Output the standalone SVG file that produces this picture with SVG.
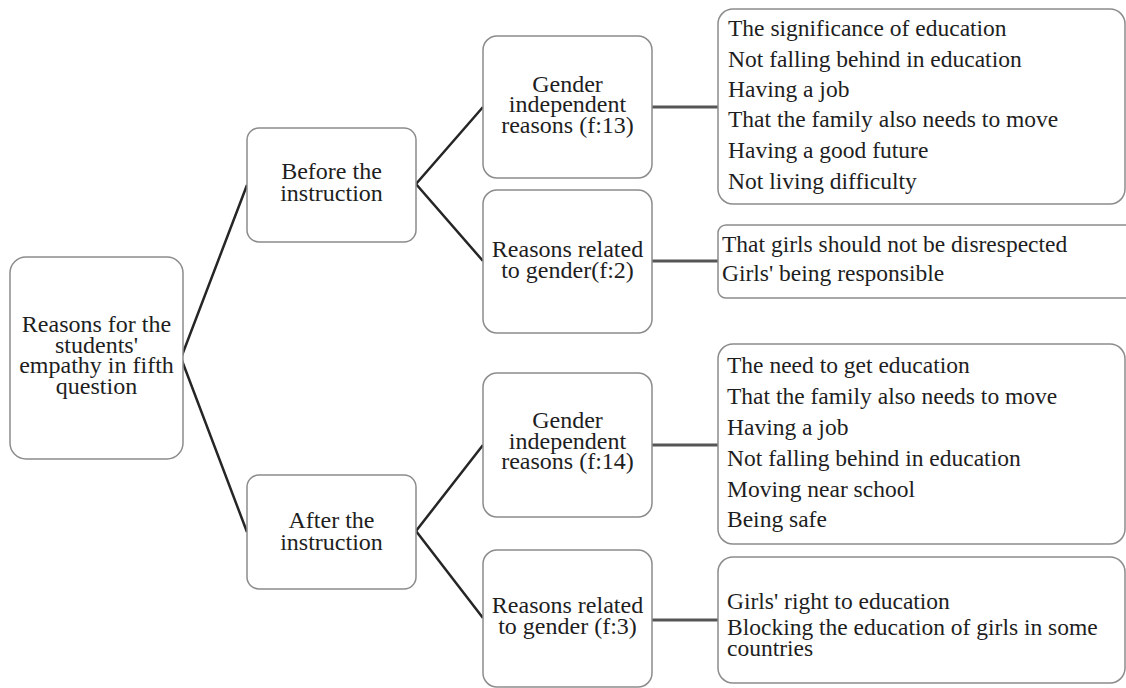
<svg xmlns="http://www.w3.org/2000/svg" width="1126" height="688" viewBox="0 0 1126 688">
  <style>
    .box { fill: #ffffff; stroke: #8c8c8c; stroke-width: 1.5; }
    .t { font-family: "Liberation Serif", "Times New Roman", serif; font-size: 24px; fill: #1e1e1e; text-anchor: middle; }
    .lt { font-family: "Liberation Serif", "Times New Roman", serif; font-size: 23.5px; fill: #1e1e1e; }
    .diag { stroke: #262626; stroke-width: 2.5; fill: none; stroke-linejoin: miter; }
    .flat { stroke: #555555; stroke-width: 3; fill: none; }
  </style>
  <rect width="1126" height="688" fill="#ffffff"/>

  <!-- connectors -->
  <g id="connectors">
    <polyline class="diag" points="247,185 181,358 247,532"/>
    <polyline class="diag" points="483,107 416,184 483,261"/>
    <polyline class="diag" points="483,445 416,531 483,618"/>
    <line class="flat" x1="652" y1="107" x2="718" y2="107"/>
    <line class="flat" x1="652" y1="261" x2="718" y2="261"/>
    <line class="flat" x1="652" y1="445" x2="718" y2="445"/>
    <line class="flat" x1="652" y1="620" x2="718" y2="620"/>
  </g>

  <!-- root -->
  <g id="root">
    <rect class="box" x="10" y="257" width="173" height="202" rx="16"/>
    <text class="t" y="332"><tspan x="96.5">Reasons for the</tspan><tspan x="96.5" dy="20.5">students'</tspan><tspan x="96.5" dy="20.5">empathy in fifth</tspan><tspan x="96.5" dy="20.5">question</tspan></text>
  </g>

  <!-- second level -->
  <g id="before">
    <rect class="box" x="247" y="128" width="169" height="114" rx="12"/>
    <text class="t" y="179"><tspan x="331.5">Before the</tspan><tspan x="331.5" dy="22">instruction</tspan></text>
  </g>
  <g id="after">
    <rect class="box" x="247" y="475" width="169" height="114" rx="12"/>
    <text class="t" y="528"><tspan x="331.5">After the</tspan><tspan x="331.5" dy="21.5">instruction</tspan></text>
  </g>

  <!-- third level -->
  <g id="before-independent">
    <rect class="box" x="483" y="36" width="169" height="142" rx="14"/>
    <text class="t" y="91.5"><tspan x="567.5">Gender</tspan><tspan x="567.5" dy="20.5">independent</tspan><tspan x="567.5" dy="20.5">reasons (f:13)</tspan></text>
  </g>
  <g id="before-gender">
    <rect class="box" x="483" y="190" width="169" height="143" rx="14"/>
    <text class="t" y="257"><tspan x="567.5">Reasons related</tspan><tspan x="567.5" dy="20.5">to gender(f:2)</tspan></text>
  </g>
  <g id="after-independent">
    <rect class="box" x="483" y="373" width="169" height="144" rx="14"/>
    <text class="t" y="428"><tspan x="567.5">Gender</tspan><tspan x="567.5" dy="20.5">independent</tspan><tspan x="567.5" dy="20.5">reasons (f:14)</tspan></text>
  </g>
  <g id="after-gender">
    <rect class="box" x="483" y="550" width="169" height="137" rx="14"/>
    <text class="t" y="613"><tspan x="567.5">Reasons related</tspan><tspan x="567.5" dy="21">to gender (f:3)</tspan></text>
  </g>

  <!-- lists of reasons -->
  <g id="list-before-independent">
    <rect class="box" x="718" y="9" width="407" height="195" rx="15"/>
    <text class="lt" x="728" y="36">The significance of education</text>
    <text class="lt" x="728" y="66.5">Not falling behind in education</text>
    <text class="lt" x="728" y="97">Having a job</text>
    <text class="lt" x="728" y="127">That the family also needs to move</text>
    <text class="lt" x="728" y="158">Having a good future</text>
    <text class="lt" x="728" y="188.5">Not living difficulty</text>
  </g>
  <g id="list-before-gender">
    <rect class="box" x="718" y="225" width="420" height="73" rx="8"/>
    <text class="lt" x="722" y="252">That girls should not be disrespected</text>
    <text class="lt" x="722" y="281">Girls' being responsible</text>
  </g>
  <g id="list-after-independent">
    <rect class="box" x="718" y="344" width="407" height="200" rx="15"/>
    <text class="lt" x="727" y="373">The need to get education</text>
    <text class="lt" x="727" y="403.5">That the family also needs to move</text>
    <text class="lt" x="727" y="435">Having a job</text>
    <text class="lt" x="727" y="465.5">Not falling behind in education</text>
    <text class="lt" x="727" y="497">Moving near school</text>
    <text class="lt" x="727" y="527">Being safe</text>
  </g>
  <g id="list-after-gender">
    <rect class="box" x="718" y="557" width="407" height="126" rx="15"/>
    <text class="lt" x="727" y="609">Girls' right to education</text>
    <text class="lt" y="635"><tspan x="727">Blocking the education of girls in some</tspan><tspan x="727" dy="21">countries</tspan></text>
  </g>
</svg>
